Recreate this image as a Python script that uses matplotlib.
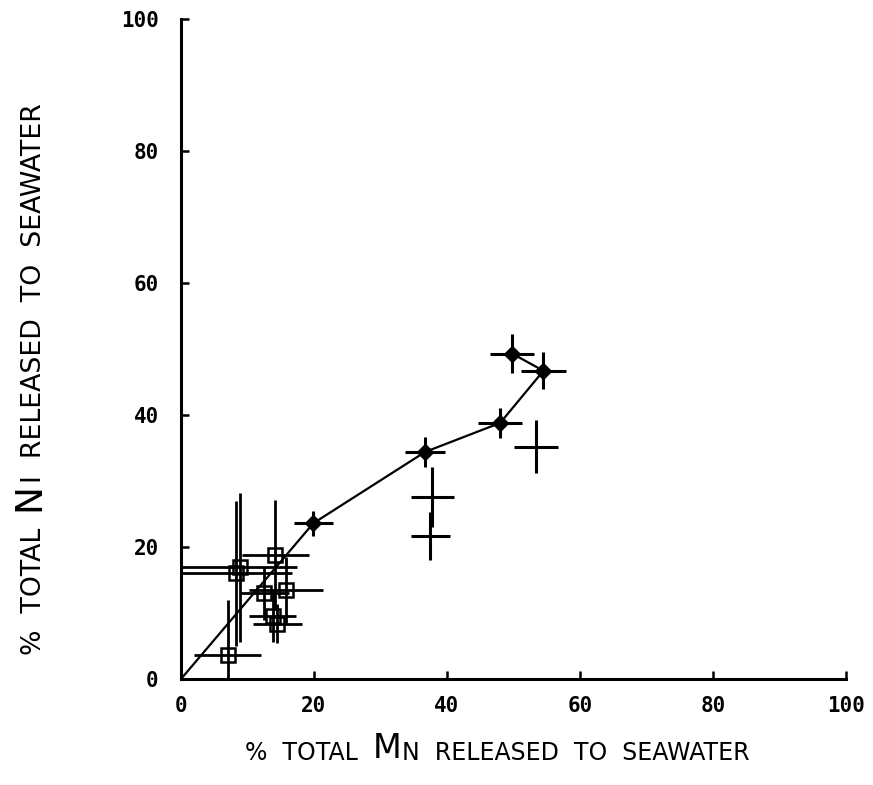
import matplotlib
matplotlib.use("Agg")
import matplotlib.pyplot as plt

# ---- data ----
# filled points (connected by line, starting at origin)
fill_x = [19.9, 36.7, 48.0, 54.5, 49.8]
fill_y = [23.6, 34.4, 38.8, 46.7, 49.3]
fill_xerr = [2.9, 3.0, 3.3, 3.4, 3.3]
fill_yerr = [1.9, 2.3, 2.3, 2.8, 2.9]
line_x = [0.0] + fill_x
line_y = [0.0] + fill_y

# plain crosses (no marker)
cross_x = [53.4, 37.8, 37.5]
cross_y = [35.2, 27.6, 21.7]
cross_xerr = [3.3, 3.2, 2.9]
cross_yerr = [4.0, 4.5, 3.6]

# open squares
sq_x = [7.0, 8.3, 8.8, 14.2, 15.8, 12.5, 13.8, 14.5]
sq_y = [3.6, 16.0, 16.9, 18.8, 13.5, 13.0, 9.6, 8.4]
sq_xerr = [5.0, 8.4, 8.6, 5.0, 5.5, 3.7, 3.5, 3.7]
sq_yerr = [8.4, 11.0, 11.3, 8.3, 5.0, 4.0, 4.0, 3.0]

xticks = [0, 20, 40, 60, 80, 100]
yticks = [0, 20, 40, 60, 80, 100]
xtick_labels = ["0", "20", "40", "60", "80", "100"]
ytick_labels = ["0", "20", "40", "60", "80", "100"]

fig = plt.figure(figsize=(8.73, 7.85), dpi=100)
ax = fig.add_axes([181/873, 1-679/785, (846-181)/873, (679-19)/785])

ax.plot(line_x, line_y, color="black", lw=1.6, zorder=3)
ax.errorbar(fill_x, fill_y, xerr=fill_xerr, yerr=fill_yerr, fmt="D", color="black",
            ms=8, elinewidth=2.2, capsize=0, zorder=4)
ax.errorbar(cross_x, cross_y, xerr=cross_xerr, yerr=cross_yerr, fmt="none", ecolor="black",
            elinewidth=2.2, capsize=0, zorder=4)
ax.errorbar(sq_x, sq_y, xerr=sq_xerr, yerr=sq_yerr, fmt="s", color="black", mfc="none",
            ms=10, mew=1.8, elinewidth=2.0, capsize=0, zorder=4)

ax.set_xlim(0, 100)
ax.set_ylim(0, 100)
for s in ["top", "right"]:
    ax.spines[s].set_visible(False)
for s in ["left", "bottom"]:
    ax.spines[s].set_linewidth(2.2)

tickfont = dict(family="DejaVu Sans Mono", weight="bold", size=15)
ax.set_xticks(xticks)
ax.set_xticklabels(xtick_labels, fontdict=tickfont)
ax.set_yticks(yticks)
ax.set_yticklabels(ytick_labels, fontdict=tickfont)
ax.tick_params(axis="both", direction="in", length=6, width=1.8)
ax.tick_params(axis="x", pad=12)
ax.tick_params(axis="y", pad=16)

# ---- axis labels with small-caps style ----
fam = "DejaVu Sans"

# x label
xs, xb = 17, 24
xparts = [("%  TOTAL  ", xs), ("M", xb), ("N  RELEASED  TO  SEAWATER", xs)]
prev = fig.text(245/873, 1-765/785, xparts[0][0], fontsize=xparts[0][1], family=fam,
                ha="left", va="bottom")
for txt, sz in xparts[1:]:
    prev = ax.annotate(txt, xy=(1, 0), xycoords=prev, fontsize=sz, family=fam,
                       ha="left", va="bottom", annotation_clip=False)

# y label
ys, yb = 19.3, 27
yparts = [("%  TOTAL  ", ys), ("N", yb), ("I  RELEASED  TO  SEAWATER", ys)]
prev = fig.text(47/873, 1-655/785, yparts[0][0], fontsize=yparts[0][1], family=fam,
                ha="right", va="bottom", rotation=90)
for txt, sz in yparts[1:]:
    prev = ax.annotate(txt, xy=(1, 1), xycoords=prev, fontsize=sz, family=fam,
                       ha="right", va="bottom", rotation=90, annotation_clip=False)

fig.savefig("out.png", dpi=100)
